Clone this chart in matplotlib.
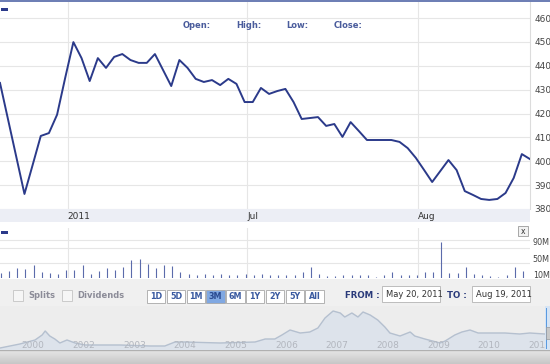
import matplotlib
matplotlib.use("Agg")
import matplotlib.pyplot as plt
from matplotlib.patches import Rectangle
import numpy as np

plt.rcParams['font.family'] = ['DejaVu Sans']

# ---- data ----
price = [432.8, 417.3, 401.8, 386.3, 398.4, 410.6, 411.8, 419.5, 435.0, 449.9,
         443.2, 433.6, 443.2, 439.1, 443.7, 444.9, 442.4, 441.2, 441.2, 444.9,
         438.2, 431.5, 442.4, 439.1, 434.5, 433.2, 434.0, 431.9, 434.5, 432.4,
         424.8, 424.8, 430.7, 428.2, 429.4, 430.3, 424.8, 417.7, 418.1, 418.5,
         414.8, 415.6, 410.2, 416.4, 412.7, 408.9, 408.9, 408.9, 408.9, 408.1,
         405.5, 401.4, 396.4, 391.3, 395.9, 400.5, 396.3, 387.5, 385.9, 384.2,
         383.8, 384.2, 386.7, 393.0, 403.0, 400.9]
volume = [13.3, 17.5, 24, 22.5, 32.5, 16, 13.3, 9, 20, 20,
          32.5, 9, 17.5, 24, 20, 27, 45, 47.5, 34, 24,
          32.5, 31, 16, 10, 7.5, 9, 7, 9, 7.5, 8,
          9, 7.5, 9, 8, 7.5, 7.5, 7.5, 16, 27, 9,
          6, 5, 7.5, 7.5, 7.5, 7.5, 3.5, 7.5, 16, 7.5,
          7.5, 7.5, 16, 14, 89, 13, 12, 27, 9, 7.5,
          5, 3.5, 7.5, 28, 18]
date_ticks = [8.3, 30.3, 51.3]
date_labels = ['2011', 'Jul', 'Aug']
price_ticks = [380, 390, 400, 410, 420, 430, 440, 450, 460]
vol_ticks = [10, 50, 90]
vol_labels = ['10M', '50M', '90M']
vol_grid = [37.5, 75, 95]

nav_t = [-0.65, -0.26, 0.04, 0.18, 0.24, 0.33, 0.43, 0.53, 0.67, 0.83, 1.03, 1.72,
         2.31, 2.6, 2.8, 3.0, 3.69, 4.38, 4.58, 4.77, 4.91, 5.07, 5.27, 5.46,
         5.62, 5.76, 5.92, 6.06, 6.15, 6.29, 6.41, 6.51, 6.65, 6.8, 6.94, 7.04,
         7.24, 7.34, 7.44, 7.53, 7.73, 8.03, 8.13, 8.32, 8.46, 8.62, 8.78, 9.01,
         9.31, 9.6, 9.8, 10.1]
nav_h = [2, 6, 10, 15, 19, 14, 11, 7, 10, 7, 5, 5,
         4, 4, 8, 8, 7, 8, 11, 11, 15, 20, 17, 18,
         22, 32, 39, 37, 33, 37, 33, 38, 35, 30, 23, 17,
         14, 16, 18, 14, 11, 7, 9, 15, 18, 20, 17, 17,
         17, 16, 17, 16]
nav_labels = ['2000', '2002', '2003', '2004', '2005', '2006', '2007', '2008', '2009', '2010', '2011']

buttons = ['1D', '5D', '1M', '3M', '6M', '1Y', '2Y', '5Y', 'All']
from_date = 'May 20, 2011'
to_date = 'Aug 19, 2011'

W, H = 550, 364
NAVY = '#2b3a8a'
GRID = '#e6e6e6'


def px(x0, y0, x1, y1):
    """rectangle en pixels (haut gauche) -> coordonnees figure"""
    return [x0 / W, 1 - y1 / H, (x1 - x0) / W, (y1 - y0) / H]


def box(fig, x0, y0, x1, y1, z=1, **kw):
    r = Rectangle((x0 / W, 1 - y1 / H), (x1 - x0) / W, (y1 - y0) / H,
                  transform=fig.transFigure, zorder=z, **kw)
    fig.patches.append(r)
    return r


def ftext(fig, x, y, s, **kw):
    fig.text(x / W, 1 - y / H, s, **kw)


fig = plt.figure(figsize=(W / 100, H / 100), dpi=100)
fig.set_facecolor('white')

# bandeaux de fond (derriere les axes)
box(fig, 0, 0, 550, 1.5, fc='#6e7fb5', ec='none')
box(fig, 0, 209, 530, 222, z=-2, fc='#eceef5', ec='none')
box(fig, 0, 279, 550, 306, z=-2, fc='#f0f0f0', ec='none')
box(fig, 1, 8, 8, 11, fc=NAVY, ec='none')
box(fig, 1, 231, 8, 234, fc=NAVY, ec='none')

# ---- graphique des prix ----
ax = fig.add_axes(px(0, 2, 530, 209))
days = np.arange(len(price))
ax.plot(days, price, color=NAVY, lw=1.4, zorder=3)
ax.set_xlim(0, 65)
ax.set_ylim(380, 460 + 16 / 2.3875)
ax.set_yticks(price_ticks)
ax.yaxis.tick_right()
ax.tick_params(axis='y', length=0, pad=3, labelsize=6.5, labelcolor='#444444')
ax.set_xticks(date_ticks)
ax.set_xticklabels(date_labels, ha='left')
ax.tick_params(axis='x', length=0, pad=2.5, labelsize=6.5, labelcolor='#333333')
for v in price_ticks:
    ax.axhline(v, color=GRID, lw=0.8, zorder=1)
for d in date_ticks:
    ax.axvline(d, color=GRID, lw=0.8, zorder=1)
for s in ['top', 'left', 'bottom']:
    ax.spines[s].set_visible(False)
ax.spines['right'].set_color('#dcdcdc')
ax.patch.set_alpha(0)

for lab, x in zip(['Open:', 'High:', 'Low:', 'Close:'], [183, 236, 286, 334]):
    ftext(fig, x, 26, lab, fontsize=6, fontweight='bold', color='#4a5c9c', va='center')

# ---- volumes ----
axv = fig.add_axes(px(0, 228, 530, 278))
axv.vlines(np.arange(len(volume)) + 0.12, 0, volume, lw=0.8, color='#5b6bab', zorder=3)
axv.set_xlim(0, 65)
axv.set_ylim(0, 125)
axv.set_xticks([])
axv.set_yticks(vol_ticks)
axv.set_yticklabels(vol_labels)
axv.yaxis.tick_right()
axv.tick_params(axis='y', length=0, pad=2, labelsize=5.8, labelcolor='#444444')
for v in vol_grid:
    axv.axhline(v, color=GRID, lw=0.8, zorder=1)
for d in date_ticks:
    axv.axvline(d, color=GRID, lw=0.8, zorder=1)
for s in axv.spines.values():
    s.set_visible(False)
axv.patch.set_alpha(0)

# bouton fermer
box(fig, 518, 226, 528, 236, fc='#f2f2f2', ec='#9a9a9a', lw=0.6)
ftext(fig, 523, 231, 'x', fontsize=5.5, color='#333333', ha='center', va='center')

# ---- barre d'outils ----
for x0, lab in [(13, 'Splits'), (62, 'Dividends')]:
    box(fig, x0, 290, x0 + 10, 301, fc='#f6f6f6', ec='#c4c4c4', lw=0.6)
    ftext(fig, x0 + 15, 295.5, lab, fontsize=6, fontweight='bold', color='#8c8c98', va='center')

for i, lab in enumerate(buttons):
    x0 = 147 + i * 19.8
    sel = lab == '3M'
    box(fig, x0, 290, x0 + 18.3, 303, fc='#80a8e2' if sel else 'white',
        ec='#a8a8a8', lw=0.6)
    ftext(fig, x0 + 9.15, 296.5, lab, fontsize=5.8, fontweight='bold',
          color='#2a4a90' if sel else '#3a5aa0', ha='center', va='center')

ftext(fig, 345, 295, 'FROM :', fontsize=6.2, fontweight='bold', color='#2a3a7a', va='center')
ftext(fig, 447, 295, 'TO :', fontsize=6.2, fontweight='bold', color='#2a3a7a', va='center')
for x0, txt in [(382, from_date), (472, to_date)]:
    box(fig, x0, 286, x0 + 58, 302, fc='white', ec='#b4b4b4', lw=0.6)
    ftext(fig, x0 + 4, 294.5, txt, fontsize=6, color='#333333', va='center')

# ---- navigateur ----
axn = fig.add_axes(px(0, 306, 545, 350))
axn.set_facecolor('#ededed')
axn.fill_between(nav_t, nav_h, 0, color='#dde3eb', zorder=2)
axn.plot(nav_t, nav_h, color='#b5c0cf', lw=1, zorder=3)
axn.set_xlim(-0.651, 10.1)
axn.set_ylim(0, 44)
axn.set_xticks([])
axn.set_yticks([])
for s in axn.spines.values():
    s.set_visible(False)
for i, lab in enumerate(nav_labels):
    axn.text(i, 0.1, lab, transform=axn.get_xaxis_transform(), fontsize=6.5,
             color='#b2b6be', ha='center', va='center', zorder=4)

box(fig, 545, 306, 550, 350, fc='#d6e4f4', ec='none')
box(fig, 545.5, 308, 547, 349, fc='#5a9ae0', ec='none')
box(fig, 546, 327, 550, 339, fc='#c8c8c8', ec='#9a9a9a', lw=0.5)

# barre de defilement
axs = fig.add_axes(px(0, 350, 550, 364))
grad = np.linspace(0.9, 0.78, 20).reshape(-1, 1)
axs.imshow(grad, aspect='auto', cmap='gray', vmin=0, vmax=1, extent=[0, 1, 0, 1])
axs.axhline(1, color='#b0b0b0', lw=1)
axs.set_axis_off()

fig.savefig('out.png', dpi=100)
